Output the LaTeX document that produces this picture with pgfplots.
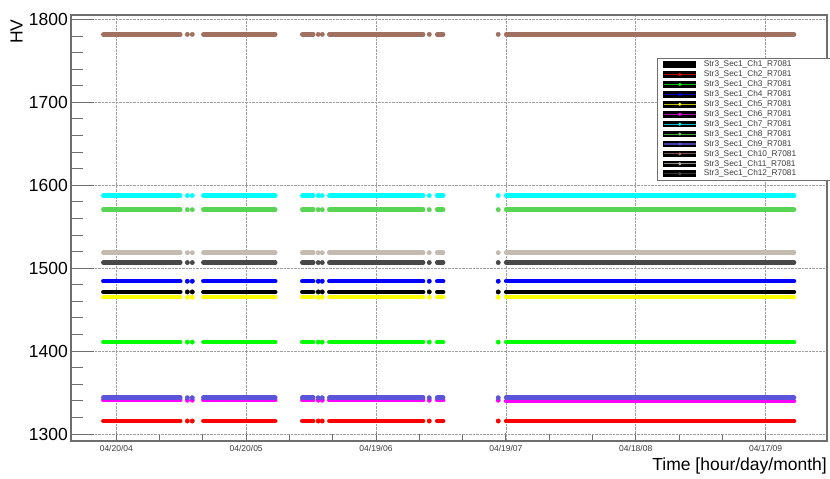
\documentclass[border=0pt]{standalone}
\usepackage{fontspec}
\setmainfont{Liberation Sans}
\usepackage{pgfplots}
\pgfplotsset{compat=1.18}
\usepackage{pgfplotstable}

\definecolor{c1}{rgb}{0,0,0}
\definecolor{c2}{rgb}{1,0,0}
\definecolor{c3}{rgb}{0,1,0}
\definecolor{c4}{rgb}{0,0,1}
\definecolor{c5}{rgb}{1,1,0}
\definecolor{c6}{rgb}{1,0,1}
\definecolor{c7}{rgb}{0,1,1}
\definecolor{c8}{rgb}{0.35,0.83,0.33}
\definecolor{c9}{rgb}{0.35,0.33,0.85}
\definecolor{c10}{RGB}{160,112,96}
\definecolor{c11}{RGB}{195,186,176}
\definecolor{c12}{RGB}{72,72,72}
\definecolor{framegray}{RGB}{110,110,110}
\definecolor{labgray}{RGB}{60,60,60}

% x = years since 04/20/04
\pgfplotstableread{
x      ch1    ch2    ch3    ch4    ch5    ch6    ch7    ch8    ch9    ch10   ch11   ch12
-0.100 1471.4 1315.7 1410.9 1484.3 1465.0 1340.8 1587.6 1570.6 1343.8 1782.0 1518.7 1506.8
0.493  1471.4 1315.7 1410.9 1484.3 1465.0 1340.8 1587.6 1570.6 1343.8 1782.0 1518.7 1506.8
nan    nan    nan    nan    nan    nan    nan    nan    nan    nan    nan    nan    nan
0.670  1471.4 1315.7 1410.9 1484.3 1465.0 1340.8 1587.6 1570.6 1343.8 1782.0 1518.7 1506.8
1.224  1471.4 1315.7 1410.9 1484.3 1465.0 1340.8 1587.6 1570.6 1343.8 1782.0 1518.7 1506.8
nan    nan    nan    nan    nan    nan    nan    nan    nan    nan    nan    nan    nan
1.432  1471.4 1315.7 1410.9 1484.3 1465.0 1340.8 1587.6 1570.6 1343.8 1782.0 1518.7 1506.8
1.517  1471.4 1315.7 1410.9 1484.3 1465.0 1340.8 1587.6 1570.6 1343.8 1782.0 1518.7 1506.8
nan    nan    nan    nan    nan    nan    nan    nan    nan    nan    nan    nan    nan
1.640  1471.4 1315.7 1410.9 1484.3 1465.0 1340.8 1587.6 1570.6 1343.8 1782.0 1518.7 1506.8
2.363  1471.4 1315.7 1410.9 1484.3 1465.0 1340.8 1587.6 1570.6 1343.8 1782.0 1518.7 1506.8
nan    nan    nan    nan    nan    nan    nan    nan    nan    nan    nan    nan    nan
2.471  1471.4 1315.7 1410.9 1484.3 1465.0 1340.8 1587.6 1570.6 1343.8 1782.0 1518.7 1506.8
2.517  1471.4 1315.7 1410.9 1484.3 1465.0 1340.8 1587.6 1570.6 1343.8 1782.0 1518.7 1506.8
nan    nan    nan    nan    nan    nan    nan    nan    nan    nan    nan    nan    nan
3.002  1471.4 1315.7 1410.9 1484.3 1465.0 1339.8 1587.6 1570.6 1343.8 1782.0 1518.7 1506.8
5.219  1471.4 1315.7 1410.9 1484.3 1465.0 1339.8 1587.6 1570.6 1343.8 1782.0 1518.7 1506.8
}\segs

\pgfplotstableread{
x      ch1    ch2    ch3    ch4    ch5    ch6    ch7    ch8    ch9    ch10   ch11   ch12
0.547  1471.4 1315.7 1410.9 1484.3 1465.0 1340.8 1587.6 1570.6 1343.8 1782.0 1518.7 1506.8
0.585  1471.4 1315.7 1410.9 1484.3 1465.0 1340.8 1587.6 1570.6 1343.8 1782.0 1518.7 1506.8
1.555  1471.4 1315.7 1410.9 1484.3 1465.0 1340.8 1587.6 1570.6 1343.8 1782.0 1518.7 1506.8
1.586  1471.4 1315.7 1410.9 1484.3 1465.0 1340.8 1587.6 1570.6 1343.8 1782.0 1518.7 1506.8
2.410  1471.4 1315.7 1410.9 1484.3 1465.0 1340.8 1587.6 1570.6 1343.8 1782.0 1518.7 1506.8
2.941  1471.4 1315.7 1410.9 1484.3 1465.0 1340.8 1587.6 1570.6 1343.8 1782.0 1518.7 1506.8
}\dotstab

\newcommand\legimg[1]{%
  \fill[fill=black, draw=none] (0pt,-3.3pt) rectangle (33pt,3.3pt);
  \draw[draw=#1!75!black, line width=1.1pt, line cap=butt] (0.5pt,0pt) -- (32.5pt,0pt);
  \fill[fill=#1, draw=none] (16.5pt,0pt) circle (1.7pt);
}
\newcommand\leg[1]{\makebox[122pt][l]{#1}}

\pgfplotsset{
  seg/.style={line width=4.5pt, line cap=round, mark=none},
  dot/.style={only marks, mark=*, mark size=2.2pt, forget plot},
  common/.style={
    scale only axis, width=756pt, height=426pt,
    xmin=-0.349, xmax=5.473, ymin=1291.6, ymax=1805.4,
    axis line style={framegray, line width=1.2pt},
    tick style={framegray, line width=1pt},
    grid style={densely dotted, gray!75, line width=0.6pt},
  },
}

\begin{document}
\begin{tikzpicture}
% background axis: x ticks, x grid, x label
\begin{axis}[common,
  xtick={0,1,2,3,4,5},
  xticklabels={04/20/04,04/20/05,04/19/06,04/19/07,04/18/08,04/17/09},
  minor x tick num=2,
  xtick pos=left, ytick=\empty,
  xmajorgrids,
  major tick length=8pt, minor tick length=7pt,
  xticklabel style={font=\fontsize{8.5}{10}\selectfont, text=labgray, inner sep=0pt, yshift=-4pt},
  xlabel={Time [hour/day/month]},
  xlabel style={at={(axis description cs:1,0)}, anchor=north east, inner sep=0pt, yshift=-17pt, font=\fontsize{17.5}{20}\selectfont},
]
\end{axis}
% main axis: data, y ticks, y grid, legend
\begin{axis}[common,
  xtick=\empty,
  ytick={1300,1400,1500,1600,1700,1800},
  minor y tick num=4,
  ytick pos=left,
  ymajorgrids,
  major tick length=23pt, minor tick length=12pt,
  /pgf/number format/assume math mode=true,
  /pgf/number format/1000 sep={},
  yticklabel style={font=\fontsize{17.5}{20}\selectfont, inner sep=0pt, xshift=-3pt},
  ylabel={HV},
  ylabel style={at={(axis description cs:-0.072,0.99)}, anchor=east, inner sep=0pt, font=\fontsize{17.5}{20}\selectfont},
  unbounded coords=jump,
  legend cell align=left,
  legend style={at={(axis description cs:0.775,0.899)}, anchor=north west,
    font=\fontsize{8.3}{9}\selectfont, text=labgray,
    draw=framegray, fill=white, line width=0.8pt,
    nodes={inner sep=0.5pt}, row sep=1.4pt, inner xsep=6pt, inner ysep=2pt,
    /tikz/every odd column/.append style={column sep=7pt}},
]
\addplot[seg, c1, legend image code/.code={\legimg{c1}}] table[x=x,y=ch1]{\segs}; \addlegendentry{\leg{Str3\_Sec1\_Ch1\_R7081}}
\addplot[dot, c1] table[x=x,y=ch1]{\dotstab};
\addplot[seg, c2, legend image code/.code={\legimg{c2}}] table[x=x,y=ch2]{\segs}; \addlegendentry{\leg{Str3\_Sec1\_Ch2\_R7081}}
\addplot[dot, c2] table[x=x,y=ch2]{\dotstab};
\addplot[seg, c3, legend image code/.code={\legimg{c3}}] table[x=x,y=ch3]{\segs}; \addlegendentry{\leg{Str3\_Sec1\_Ch3\_R7081}}
\addplot[dot, c3] table[x=x,y=ch3]{\dotstab};
\addplot[seg, c4, legend image code/.code={\legimg{c4}}] table[x=x,y=ch4]{\segs}; \addlegendentry{\leg{Str3\_Sec1\_Ch4\_R7081}}
\addplot[dot, c4] table[x=x,y=ch4]{\dotstab};
\addplot[seg, c5, legend image code/.code={\legimg{c5}}] table[x=x,y=ch5]{\segs}; \addlegendentry{\leg{Str3\_Sec1\_Ch5\_R7081}}
\addplot[dot, c5] table[x=x,y=ch5]{\dotstab};
\addplot[seg, c6, legend image code/.code={\legimg{c6}}] table[x=x,y=ch6]{\segs}; \addlegendentry{\leg{Str3\_Sec1\_Ch6\_R7081}}
\addplot[dot, c6] table[x=x,y=ch6]{\dotstab};
\addplot[seg, c7, legend image code/.code={\legimg{c7}}] table[x=x,y=ch7]{\segs}; \addlegendentry{\leg{Str3\_Sec1\_Ch7\_R7081}}
\addplot[dot, c7] table[x=x,y=ch7]{\dotstab};
\addplot[seg, c8, legend image code/.code={\legimg{c8}}] table[x=x,y=ch8]{\segs}; \addlegendentry{\leg{Str3\_Sec1\_Ch8\_R7081}}
\addplot[dot, c8] table[x=x,y=ch8]{\dotstab};
\addplot[seg, c9, legend image code/.code={\legimg{c9}}] table[x=x,y=ch9]{\segs}; \addlegendentry{\leg{Str3\_Sec1\_Ch9\_R7081}}
\addplot[dot, c9] table[x=x,y=ch9]{\dotstab};
\addplot[seg, c10, legend image code/.code={\legimg{c10}}] table[x=x,y=ch10]{\segs}; \addlegendentry{\leg{Str3\_Sec1\_Ch10\_R7081}}
\addplot[dot, c10] table[x=x,y=ch10]{\dotstab};
\addplot[seg, c11, legend image code/.code={\legimg{c11}}] table[x=x,y=ch11]{\segs}; \addlegendentry{\leg{Str3\_Sec1\_Ch11\_R7081}}
\addplot[dot, c11] table[x=x,y=ch11]{\dotstab};
\addplot[seg, c12, legend image code/.code={\legimg{c12}}] table[x=x,y=ch12]{\segs}; \addlegendentry{\leg{Str3\_Sec1\_Ch12\_R7081}}
\addplot[dot, c12] table[x=x,y=ch12]{\dotstab};
\end{axis}
\pgfresetboundingbox
\path[use as bounding box] (current axis.south west) ++(-71pt,-38pt) rectangle ++(830pt,479pt);
\end{tikzpicture}
\end{document}
